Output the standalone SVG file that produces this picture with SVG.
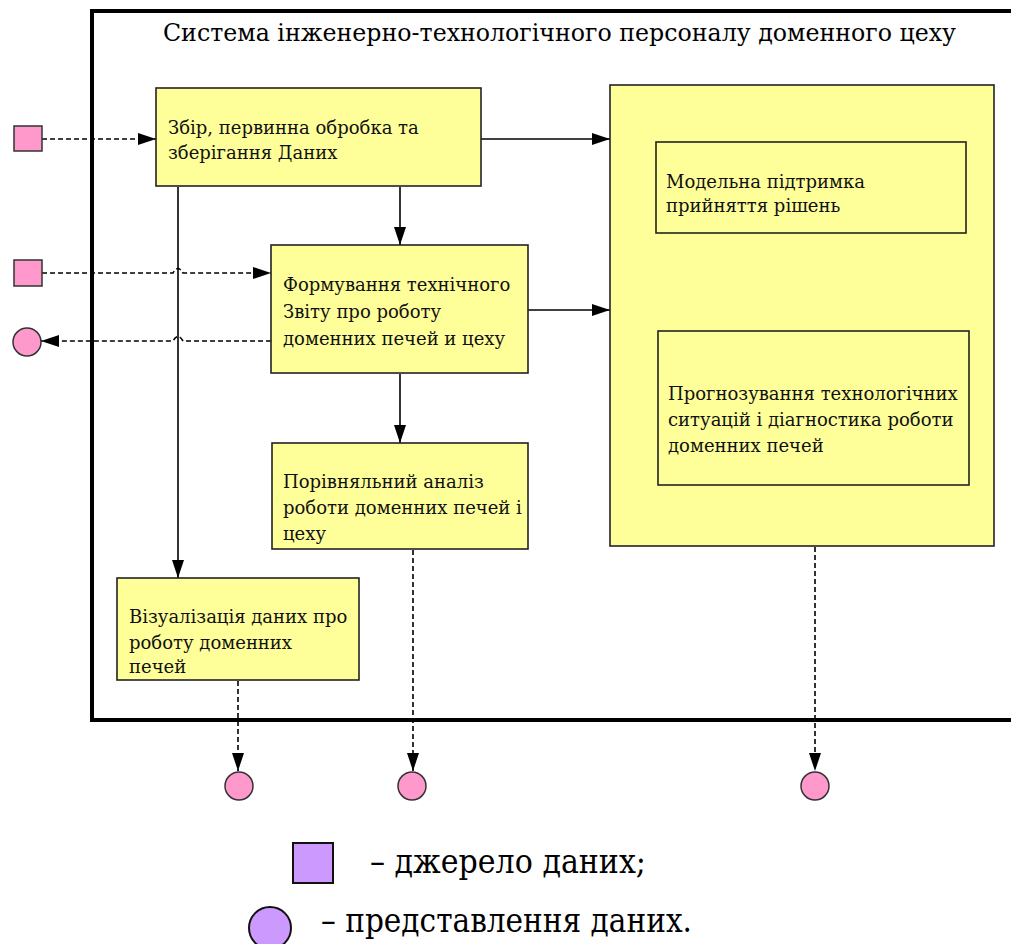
<svg xmlns="http://www.w3.org/2000/svg" width="1011" height="944" viewBox="0 0 1011 944">
  <defs>
    <marker id="arrow" markerUnits="userSpaceOnUse" markerWidth="18" markerHeight="12" refX="18" refY="6" orient="auto">
      <path d="M0,0 L18,6 L0,12 Z" fill="#000"/>
    </marker>
    <style>
      .box { fill: #ffff99; stroke: #222; stroke-width: 1.6; }
      .lbl { font-family: 'DejaVu Serif', 'Liberation Serif', serif; font-size: 18px; fill: #111; }
      .big { font-family: 'DejaVu Serif', 'Liberation Serif', serif; fill: #000; }
      .solid { fill: none; stroke: #000; stroke-width: 1.6; marker-end: url(#arrow); }
      .dash { fill: none; stroke: #000; stroke-width: 1.6; stroke-dasharray: 5 3; marker-end: url(#arrow); }
      .src { fill: #ff99cc; stroke: #333; stroke-width: 1.5; }
      .legend { fill: #cc99ff; stroke: #111; stroke-width: 2; }
    </style>
  </defs>
  <rect width="1011" height="944" fill="#fff"/>

  <!-- system boundary (open on the right) -->
  <g id="system">
    <path d="M1015,11 H92 V720 H1015" fill="none" stroke="#000" stroke-width="4"/>
    <text class="big" x="163" y="41" font-size="25" textLength="793" lengthAdjust="spacingAndGlyphs">Система інженерно-технологічного персоналу доменного цеху</text>
  </g>

  <!-- connectors -->
  <g id="connectors">
    <line class="solid" x1="481" y1="139" x2="610" y2="139"/>
    <line class="solid" x1="400" y1="187" x2="400" y2="245"/>
    <line class="solid" x1="528" y1="310" x2="610" y2="310"/>
    <line class="solid" x1="400" y1="374" x2="400" y2="443"/>
    <line class="solid" x1="178" y1="187" x2="178" y2="578"/>
    <line class="solid" x1="815" y1="233" x2="815" y2="331"/>
    <line class="dash" x1="42" y1="139" x2="156" y2="139"/>
    <path class="dash" d="M42,273 H173 Q178,264 183,273 H271"/>
    <path class="dash" d="M271,341 H183 Q178,332 173,341 H41"/>
    <line class="dash" x1="238" y1="681" x2="238" y2="771"/>
    <line class="dash" x1="413" y1="550" x2="413" y2="771"/>
    <line class="dash" x1="815" y1="547" x2="815" y2="771"/>
  </g>

  <!-- sources and outputs -->
  <g id="source-1"><rect class="src" x="14" y="126" width="28" height="25"/></g>
  <g id="source-2"><rect class="src" x="14" y="260" width="28" height="26"/></g>
  <g id="output-report"><circle class="src" cx="27" cy="342" r="14"/></g>
  <g id="output-visual"><circle class="src" cx="239" cy="786" r="14"/></g>
  <g id="output-compare"><circle class="src" cx="412" cy="786" r="14"/></g>
  <g id="output-forecast"><circle class="src" cx="815" cy="786" r="14"/></g>

  <!-- process blocks -->
  <g id="collect">
    <rect class="box" x="156" y="88" width="325" height="98"/>
    <text class="lbl" x="168" y="134">Збір, первинна обробка та</text>
    <text class="lbl" x="168" y="159">зберігання Даних</text>
  </g>
  <g id="report">
    <rect class="box" x="271" y="245" width="257" height="128"/>
    <text class="lbl" x="283" y="291">Формування технічного</text>
    <text class="lbl" x="283" y="318">Звіту про роботу</text>
    <text class="lbl" x="283" y="345">доменних печей и цеху</text>
  </g>
  <g id="compare">
    <rect class="box" x="272" y="443" width="256" height="106"/>
    <text class="lbl" x="283" y="488">Порівняльний аналіз</text>
    <text class="lbl" x="283" y="514">роботи доменних печей і</text>
    <text class="lbl" x="283" y="540">цеху</text>
  </g>
  <g id="visual">
    <rect class="box" x="117" y="578" width="242" height="102"/>
    <text class="lbl" x="129" y="623">Візуалізація даних про</text>
    <text class="lbl" x="129" y="649">роботу доменних</text>
    <text class="lbl" x="129" y="673">печей</text>
  </g>
  <g id="decision-support">
    <rect class="box" x="610" y="85" width="384" height="461"/>
    <g id="model-support">
      <rect class="box" x="656" y="142" width="310" height="91"/>
      <text class="lbl" x="666" y="188">Модельна підтримка</text>
      <text class="lbl" x="666" y="212">прийняття рішень</text>
    </g>
    <g id="forecast">
      <rect class="box" x="658" y="331" width="311" height="154"/>
      <text class="lbl" x="668" y="400">Прогнозування технологічних</text>
      <text class="lbl" x="668" y="426">ситуацій і діагностика роботи</text>
      <text class="lbl" x="668" y="452">доменних печей</text>
    </g>
  </g>

  <!-- legend -->
  <g id="legend">
    <rect class="legend" x="293" y="843" width="40" height="40"/>
    <text class="big" x="370" y="873" font-size="34" textLength="276" lengthAdjust="spacingAndGlyphs">– джерело даних;</text>
    <circle class="legend" cx="270" cy="928" r="21"/>
    <text class="big" x="321" y="932" font-size="34" textLength="371" lengthAdjust="spacingAndGlyphs">– представлення даних.</text>
  </g>
</svg>
